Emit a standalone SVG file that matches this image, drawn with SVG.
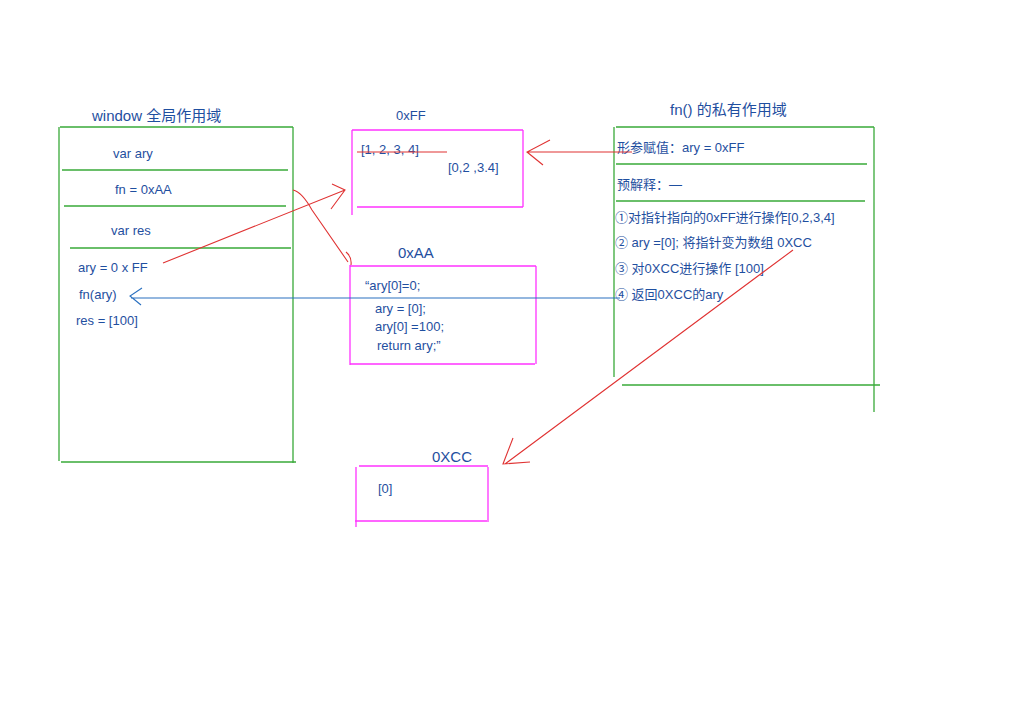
<svg xmlns="http://www.w3.org/2000/svg" width="1024" height="725" viewBox="0 0 1024 725">
<style>
.g{stroke:#3aaa3a;stroke-width:1.3;fill:none}
.m{stroke:#ff33ff;stroke-width:1.3;fill:none}
.r{stroke:#e03333;stroke-width:1.1;fill:none}
.b{stroke:#2a70c0;stroke-width:1.1;fill:none}
.t{font-family:"Liberation Sans","Noto Sans CJK SC",sans-serif;font-size:13px;fill:#1f4fa0}
.h{font-family:"Liberation Sans","Noto Sans CJK SC",sans-serif;font-size:15px;fill:#1f4fa0}
</style>
<rect width="1024" height="725" fill="#fff"/>
<g id="window-scope">
<text class="h" x="92" y="121">window 全局作用域</text>
<path class="g" d="M60 127H293M59 127V461M293 127V463M61 462H296M62 170H288M64 206H286M70 248H291"/>
<text class="t" x="113" y="158">var ary</text>
<text class="t" x="115" y="194">fn = 0xAA</text>
<text class="t" x="111" y="235">var  res</text>
<text class="t" x="78" y="272">ary = 0 x FF</text>
<text class="t" x="79" y="299">fn(ary)</text>
<text class="t" x="76" y="325">res = [100]</text>
</g>
<g id="heap-0xFF">
<text class="t" x="396" y="120">0xFF</text>
<path class="m" d="M352 130V215M352 130H523M523 130V207M357 207H523"/>
<text class="t" x="361" y="154">[1, 2, 3, 4]</text>
<path class="r" d="M357 152H447"/>
<text class="t" x="448" y="172">[0,2 ,3.4]</text>
</g>
<g id="heap-0xAA">
<text class="h" x="398" y="258">0xAA</text>
<path class="m" d="M350 265V365M350 266H536M536 266V364M350 364H535"/>
<text class="t" x="365" y="290">“ary[0]=0;</text>
<text class="t" x="375" y="313">ary = [0];</text>
<text class="t" x="375" y="331">ary[0] =100;</text>
<text class="t" x="377" y="350">return ary;”</text>
</g>
<g id="fn-scope">
<text class="h" x="670" y="115">fn() 的私有作用域</text>
<path class="g" d="M616 127H874M614 127V377M874 127V412M616 164H867M616 201H865M622 385H880"/>
<text class="t" x="617" y="152">形参赋值：ary = 0xFF</text>
<text class="t" x="617" y="189">预解释：—</text>
<text class="t" x="615" y="222">①对指针指向的0xFF进行操作[0,2,3,4]</text>
<text class="t" x="615" y="247">② ary =[0]; 将指针变为数组 0XCC</text>
<text class="t" x="615" y="273">③ 对0XCC进行操作 [100]</text>
<text class="t" x="615" y="299">④ 返回0XCC的ary</text>
</g>
<g id="heap-0xCC">
<text class="h" x="432" y="462">0XCC</text>
<path class="m" d="M359 466H488M356 467V527M488 467V522M355 521H487"/>
<text class="t" x="378" y="493">[0]</text>
</g>
<g id="connectors">
<path class="r" d="M163 263L345 190M332 184L345 190L331 209"/>
<path class="r" d="M293 190Q302 192 312 210L348 262M346 252Q352 257 351 265"/>
<path class="r" d="M632 152H527M550 140L527 152L543 165"/>
<path class="b" d="M620 298H131M142 288L130 296L141 305"/>
<path class="r" d="M793 250L505 464M513 438L503 464L530 462"/>
</g>
</svg>
